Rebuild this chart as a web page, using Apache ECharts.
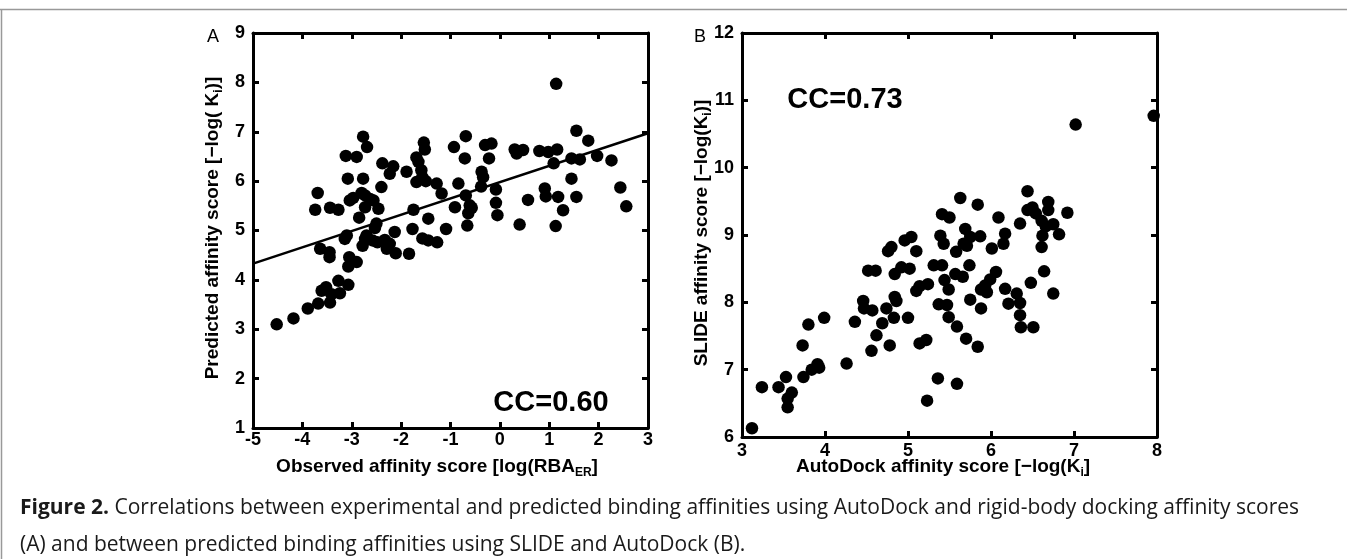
<!DOCTYPE html>
<html><head><meta charset="utf-8">
<script src="https://cdn.jsdelivr.net/npm/echarts@6/dist/echarts.min.js"></script>
<style>html,body{margin:0;padding:0;background:#fff}#c{width:1347px;height:559px}</style>
</head><body><div id="c"></div><script>
// Panel A: observed (x) vs predicted (y)
const observedA = [-4.52,-4.18,-3.89,-3.68,-3.44,-3.41,-3.61,-3.52,-3.27,-3.07,-3.24,-3.07,-3.05,-2.90,-3.64,-3.45,-3.45,-3.10,-3.14,-2.70,-2.73,-2.78,-2.58,-2.48,-2.33,-2.29,-2.23,-2.13,-2.11,-2.50,-2.53,-2.85,-3.74,-3.69,-3.44,-3.27,-3.08,-2.77,-2.40,-3.04,-2.97,-2.80,-2.73,-2.63,-2.56,-2.73,-2.46,-3.12,-2.90,-2.77,-2.69,-2.38,-2.16,-2.23,-1.89,-1.54,-1.52,-1.69,-1.65,-1.59,-1.57,-1.69,-1.50,-1.28,-1.18,-1.75,-1.45,-1.77,-1.57,-1.45,-1.27,-1.84,-1.09,-0.91,-0.84,-0.69,-0.93,-0.71,-0.69,-0.61,-0.57,-0.64,-0.66,-0.37,-0.34,-0.38,-0.30,-0.17,-0.22,-0.08,-0.08,-0.05,0.30,0.34,0.47,0.57,0.40,0.80,0.98,1.16,1.09,0.91,0.93,1.18,1.28,1.13,1.45,1.55,1.45,1.62,1.55,1.79,1.97,2.26,2.44,2.56,1.14];
const predictedA = [3.10,3.22,3.42,3.52,3.54,3.71,3.78,3.85,3.98,3.90,3.73,4.27,4.46,4.36,4.63,4.56,4.46,4.90,4.83,4.90,4.83,4.69,4.80,4.76,4.81,4.63,4.73,4.97,4.54,5.14,5.05,5.26,5.42,5.76,5.46,5.42,6.05,6.05,5.88,5.61,5.66,5.76,5.71,5.64,5.61,5.47,5.44,6.51,6.49,6.90,6.69,6.36,6.30,6.15,6.19,6.78,6.64,6.48,6.39,6.22,6.08,5.98,6.00,5.95,5.75,5.42,5.24,5.03,4.84,4.80,4.76,4.53,5.03,5.47,5.95,6.91,6.69,6.46,5.71,5.51,5.46,5.35,5.10,6.19,6.08,5.89,6.73,6.76,6.46,5.83,5.56,5.31,6.64,6.56,6.63,5.62,5.12,6.61,6.59,6.64,6.36,5.85,5.69,5.68,5.41,5.09,6.05,5.68,6.46,6.44,7.02,6.82,6.51,6.42,5.87,5.49,7.97];
const fitLineA = [[-5, 4.33], [3, 6.97]];
// Panel B: AutoDock (x) vs SLIDE (y)
const autodockB = [3.12,3.24,3.44,3.53,3.60,3.55,3.55,3.74,3.73,3.80,3.99,3.84,3.91,3.93,4.26,4.36,4.46,4.47,4.57,4.52,4.61,4.62,4.56,4.69,4.74,4.78,4.83,4.84,4.86,5.00,4.76,4.80,4.84,4.92,5.02,4.96,5.04,5.10,5.10,5.14,5.24,5.14,5.22,5.31,5.41,5.39,5.43,5.41,5.50,5.63,5.84,5.44,5.49,5.37,5.47,5.49,5.59,5.70,5.84,5.36,5.59,5.23,5.58,5.67,5.69,5.75,5.71,5.87,5.57,5.66,5.74,5.75,5.88,5.88,5.93,5.95,5.99,6.06,6.01,6.09,6.17,6.15,6.17,6.21,6.31,6.35,6.35,6.36,6.51,6.48,6.64,6.75,6.35,6.44,6.44,6.50,6.54,6.69,6.69,6.61,6.66,6.75,6.62,6.82,6.61,6.92,7.02,7.96];
const slideB = [6.13,6.74,6.74,6.89,6.66,6.57,6.44,6.89,7.36,7.67,7.77,7.00,7.08,7.03,7.09,7.71,8.02,7.91,7.88,8.47,8.47,7.51,7.28,7.69,7.91,7.36,7.77,8.08,8.02,7.77,8.76,8.82,8.42,8.52,8.50,8.92,8.97,8.76,8.17,8.24,8.27,7.39,7.44,8.55,8.55,8.99,8.87,9.31,9.26,9.55,9.45,8.33,8.19,7.97,7.96,7.78,7.64,7.46,7.34,6.87,6.79,6.54,8.75,8.87,9.09,8.97,8.84,8.98,8.42,8.38,8.55,8.04,7.91,8.19,8.25,8.15,8.34,8.45,8.80,9.26,9.02,8.87,8.20,7.98,8.13,7.99,7.81,7.63,7.63,8.29,8.46,8.13,9.17,9.65,9.37,9.41,9.32,9.49,9.37,9.21,9.13,9.16,8.99,9.01,8.82,9.33,10.64,10.77];

const captionLine1 = 'Correlations between experimental and predicted binding affinities using AutoDock and rigid-body docking affinity scores';
const captionLine2 = '(A) and between predicted binding affinities using SLIDE and AutoDock (B).';

const zip = (a, b) => a.map((v, i) => [v, b[i]]);
const FF = '"Liberation Sans", Arial, Helvetica, sans-serif';
const CF = '"Open Sans", Lato, sans-serif';
const lineS = {color: '#000', width: 3};
function ax(grid, min, max, pos, labelShow, margin) {
  return {
    type: 'value', gridIndex: grid, min: min, max: max, interval: 1, position: pos,
    axisLine: {show: true, onZero: false, lineStyle: lineS},
    axisTick: {show: true, inside: true, length: 6, lineStyle: {color: '#000', width: 3}},
    axisLabel: {show: labelShow, color: '#000', fontFamily: FF, fontWeight: 'bold', fontSize: 18, margin: margin},
    splitLine: {show: false}
  };
}
const subRich = {
  sub: {fontFamily: FF, fontWeight: 'bold', fontSize: 12, verticalAlign: 'bottom', padding: [11, 0, 0, 0]}
};
function titleText(x, y, text, rot, size) {
  return {
    type: 'text', x: x, y: y, rotation: rot || 0,
    style: {text: text, fontFamily: FF, fontWeight: 'bold', fontSize: size || 19, fill: '#000',
      align: 'center', verticalAlign: 'middle', rich: subRich}
  };
}
const chart = echarts.init(document.getElementById('c'));
chart.setOption({
  animation: false,
  backgroundColor: '#fff',
  grid: [
    {left: 253, top: 33, width: 395, height: 395},
    {left: 742, top: 33, width: 415, height: 404}
  ],
  xAxis: [
    ax(0, -5, 3, 'bottom', true, 3),
    ax(0, -5, 3, 'top', false, 0),
    ax(1, 3, 8, 'bottom', true, 5),
    ax(1, 3, 8, 'top', false, 0)
  ],
  yAxis: [
    ax(0, 1, 9, 'left', true, 8),
    ax(0, 1, 9, 'right', false, 0),
    ax(1, 6, 12, 'left', true, 8),
    ax(1, 6, 12, 'right', false, 0)
  ],
  series: [
    {type: 'scatter', xAxisIndex: 0, yAxisIndex: 0, data: zip(observedA, predictedA),
      symbol: 'circle', symbolSize: 12.5, itemStyle: {color: '#000', opacity: 1}},
    {type: 'line', xAxisIndex: 0, yAxisIndex: 0, data: fitLineA, symbol: 'none',
      lineStyle: {color: '#000', width: 2.5}},
    {type: 'scatter', xAxisIndex: 2, yAxisIndex: 2, data: zip(autodockB, slideB),
      symbol: 'circle', symbolSize: 12.5, itemStyle: {color: '#000', opacity: 1}}
  ],
  graphic: [
    {type: 'line', shape: {x1: 0, y1: 9.5, x2: 1347, y2: 9.5}, style: {stroke: '#999', lineWidth: 1.5}},
    {type: 'line', shape: {x1: 1.5, y1: 9.5, x2: 1.5, y2: 559}, style: {stroke: '#999', lineWidth: 1.5}},
    {type: 'text', x: 213, y: 37, style: {text: 'A', fontFamily: FF, fontSize: 18, fill: '#000', align: 'center', verticalAlign: 'middle'}},
    {type: 'text', x: 700, y: 37, style: {text: 'B', fontFamily: FF, fontSize: 18, fill: '#000', align: 'center', verticalAlign: 'middle'}},
    titleText(213, 228, 'Predicted affinity score [\u2212log( K{sub|i})]', Math.PI / 2),
    titleText(702, 233, 'SLIDE affinity score [\u2212log(K{sub|i})]', Math.PI / 2),
    titleText(437, 467, 'Observed affinity score [log(RBA{sub|ER}]'),
    titleText(943, 467, 'AutoDock affinity score [\u2212log(K{sub|i}]'),
    {type: 'text', x: 551, y: 403, style: {text: 'CC=0.60', fontFamily: FF, fontWeight: 'bold', fontSize: 29, fill: '#000', align: 'center', verticalAlign: 'middle'}},
    {type: 'text', x: 845, y: 100, style: {text: 'CC=0.73', fontFamily: FF, fontWeight: 'bold', fontSize: 29, fill: '#000', align: 'center', verticalAlign: 'middle'}},
    {type: 'text', x: 20, y: 508, style: {text: '{b|Figure 2.} ' + captionLine1, fontFamily: CF, fontSize: 21, fill: '#1a1a1a', verticalAlign: 'middle',
      rich: {b: {fontFamily: CF, fontWeight: 'bold', fontSize: 21, fill: '#1a1a1a'}}}},
    {type: 'text', x: 20, y: 545, style: {text: captionLine2, fontFamily: CF, fontSize: 21, fill: '#1a1a1a', verticalAlign: 'middle'}}
  ]
});
</script></body></html>
